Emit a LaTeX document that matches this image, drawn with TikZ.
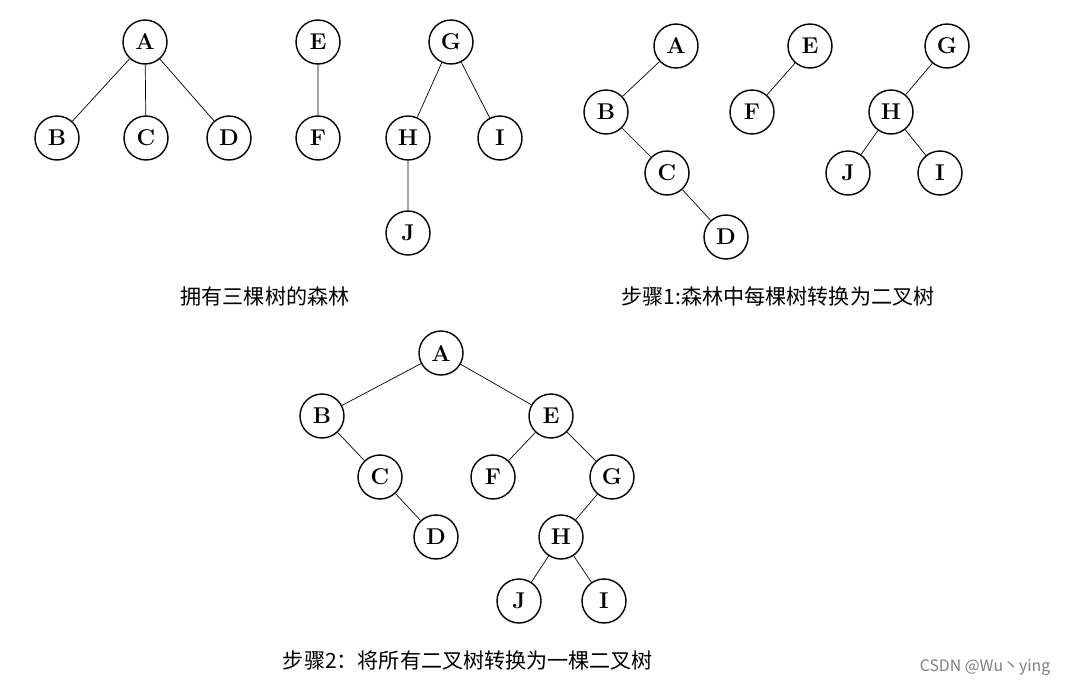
\documentclass[tikz,border=0pt]{standalone}
\usepackage{fontspec}
\newfontfamily\cjk{Noto Sans CJK SC}
\usetikzlibrary{positioning}

\begin{document}
\begin{tikzpicture}[x = 0.02cm, y = -0.02cm,
  vertex/.style = {draw, circle, thick, minimum size = 0.88cm, inner sep = 0pt, font = \fontsize{13}{15}\selectfont\bfseries},
  caption/.style = {font = \fontsize{12}{14}\selectfont\cjk}]
\useasboundingbox (0, 0) rectangle (1066, 684);
% forest of three trees
\node[vertex] (a1) at (145, 42) {A};
\node[vertex] (b1) at (57, 138) {B};
\node[vertex] (c1) at (146, 138) {C};
\node[vertex] (d1) at (229, 138) {D};
\node[vertex] (e1) at (318, 42) {E};
\node[vertex] (f1) at (318, 138) {F};
\node[vertex] (g1) at (451, 42) {G};
\node[vertex] (h1) at (408, 138) {H};
\node[vertex] (i1) at (500, 138) {I};
\node[vertex] (j1) at (408, 233) {J};
\draw (a1) -- (b1) (a1) -- (c1) (a1) -- (d1) (e1) -- (f1);
\draw (g1) -- (h1) (g1) -- (i1) (h1) -- (j1);
\node[caption] (cap1) at (265, 296) {拥有三棵树的森林};
% step 1
\node[vertex] (a2) at (676, 46) {A};
\node[vertex] (b2) at (606, 112) {B};
\node[vertex] (c2) at (667, 173) {C};
\node[vertex] (d2) at (726, 237) {D};
\node[vertex] (e2) at (810, 46) {E};
\node[vertex] (f2) at (752, 112) {F};
\node[vertex] (g2) at (947, 46) {G};
\node[vertex] (h2) at (891, 112) {H};
\node[vertex] (j2) at (848, 173) {J};
\node[vertex] (i2) at (940, 173) {I};
\draw (a2) -- (b2) -- (c2) -- (d2) (e2) -- (f2);
\draw (g2) -- (h2) -- (j2) (h2) -- (i2);
\node[caption] (cap2) at (778, 296) {步骤1:森林中每棵树转换为二叉树};
% step 2
\node[vertex] (a3) at (441, 353) {A};
\node[vertex] (b3) at (322, 416) {B};
\node[vertex] (e3) at (551, 416) {E};
\node[vertex] (c3) at (380, 477) {C};
\node[vertex] (f3) at (493, 477) {F};
\node[vertex] (g3) at (612, 477) {G};
\node[vertex] (d3) at (436, 537) {D};
\node[vertex] (h3) at (561, 537) {H};
\node[vertex] (j3) at (519, 601) {J};
\node[vertex] (i3) at (604, 601) {I};
\draw (a3) -- (b3) -- (c3) -- (d3) (a3) -- (e3) -- (f3) (e3) -- (g3) -- (h3) -- (j3) (h3) -- (i3);
\node[caption] (cap3) at (468, 660) {步骤2：将所有二叉树转换为一棵二叉树};
\node[font = \fontsize{9}{11}\selectfont\cjk, text = gray] (mark) at (985, 667) {CSDN @Wu丶ying};
\end{tikzpicture}
\end{document}
